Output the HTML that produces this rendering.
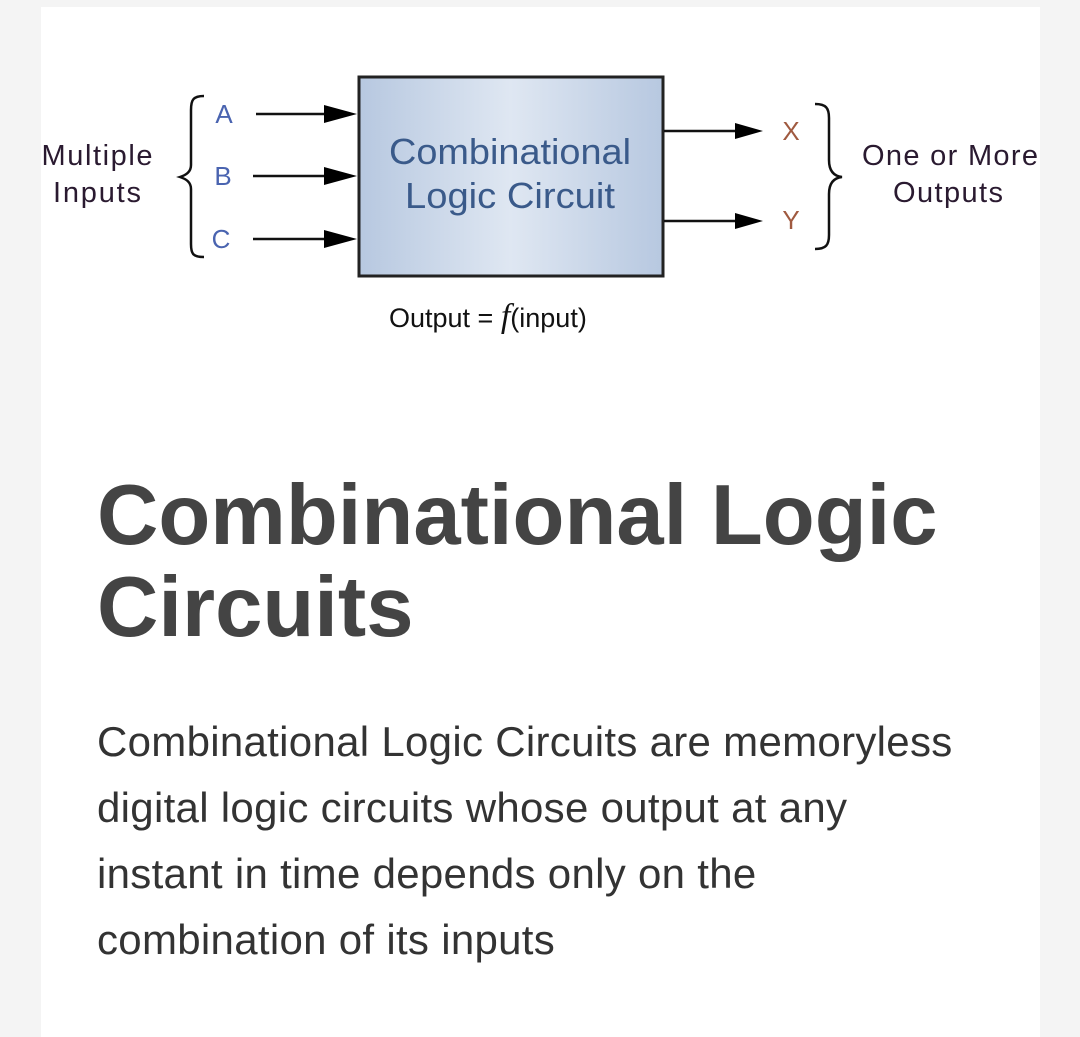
<!DOCTYPE html>
<html><head><meta charset="utf-8"><style>
body{margin:0;width:1080px;height:1027px;background:#f4f4f4;overflow:hidden;font-family:"Liberation Sans",sans-serif}
.card{position:absolute;left:41px;top:7px;width:999px;height:1030px;background:#fff}
h1{position:absolute;left:97px;top:470px;margin:0;font-size:85px;line-height:92px;font-weight:bold;color:#444;letter-spacing:0}
p{position:absolute;left:97px;top:709px;margin:0;font-size:42px;line-height:66px;color:#333;white-space:nowrap;letter-spacing:0.3px}
</style></head><body>
<div class="card"></div>
<svg width="1080" height="360" style="position:absolute;left:0;top:0" font-family="Liberation Sans, sans-serif">
<defs>
<linearGradient id="g" x1="0" x2="1"><stop offset="0" stop-color="#b7c8e0"/><stop offset="0.5" stop-color="#dfe7f2"/><stop offset="1" stop-color="#b7c8e0"/></linearGradient>
</defs>
<rect x="359" y="77" width="304" height="199" fill="url(#g)" stroke="#222" stroke-width="3"/>
<text x="510" y="164" font-size="36" fill="#3a5a8a" text-anchor="middle" textLength="242" lengthAdjust="spacingAndGlyphs">Combinational</text>
<text x="510" y="208" font-size="36" fill="#3a5a8a" text-anchor="middle" textLength="210" lengthAdjust="spacingAndGlyphs">Logic Circuit</text>
<g stroke="#111" stroke-width="2.5" fill="none">
<path d="M256 114H324" /><path d="M253 176H324"/><path d="M253 239H324"/>
<path d="M664 131H735"/><path d="M664 221H735"/>
<path d="M204 96C193 96 191 100 191 110V165C191 172 186 175 180 177C186 179 191 182 191 189V244C191 254 193 257 204 257"/>
<path d="M815 104C826 104 829 108 829 118V160C829 170 833 176 842 177C833 178 829 184 829 194V235C829 245 826 249 815 249"/>
</g>
<g fill="#000">
<path d="M324 105L357 114L324 123z"/><path d="M324 167L357 176L324 185z"/><path d="M324 230L357 239L324 248z"/>
<path d="M735 123L763 131L735 139z"/><path d="M735 213L763 221L735 229z"/>
</g>
<g font-size="26" fill="#4a64b0" text-anchor="middle"><text x="224" y="123">A</text><text x="223" y="185">B</text><text x="221" y="248">C</text></g>
<g font-size="26" fill="#a05a40" text-anchor="middle"><text x="791" y="140">X</text><text x="791" y="229">Y</text></g>
<g font-size="29" fill="#2a1a30" text-anchor="middle" lengthAdjust="spacingAndGlyphs"><text x="97" y="165" textLength="111">Multiple</text><text x="97" y="202" textLength="88">Inputs</text>
<text x="950" y="165" textLength="176">One or More</text><text x="948" y="202" textLength="110">Outputs</text></g>
<text x="389" y="327" font-size="27" fill="#111">Output = <tspan font-family="Liberation Serif, serif" font-style="italic" font-size="34">f</tspan>(input)</text>
</svg>
<h1>Combinational Logic<br>Circuits</h1>
<p>Combinational Logic Circuits are memoryless<br>digital logic circuits whose output at any<br>instant in time depends only on the<br>combination of its inputs</p>
</body></html>
